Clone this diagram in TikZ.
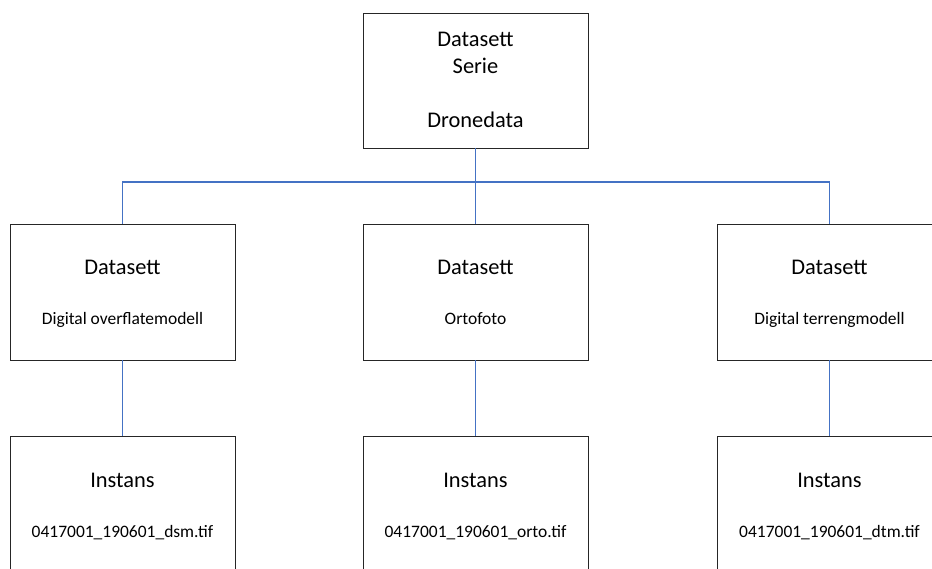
\documentclass[tikz,border=0pt]{standalone}
\usepackage{fontspec}
\setmainfont{Carlito}
\usetikzlibrary{positioning, calc}
\definecolor{cline}{HTML}{4472C4}
\definecolor{cbox}{HTML}{262626}
\tikzset{
  every picture/.style={x=0.75pt, y=-0.75pt},
  box/.style={draw=cbox, line width=0.7pt, minimum width=168.75pt, minimum height=102pt, inner sep=0pt},
  head/.style={font=\fontsize{16.8}{18}\selectfont, anchor=base, inner sep=0pt},
  sub/.style={font=\fontsize{13.1}{15}\selectfont, anchor=base, inner sep=0pt},
  link/.style={draw=cline, line width=0.9pt},
}

\begin{document}
\begin{tikzpicture}
  \useasboundingbox (0,0) rectangle (932,568);
  \clip (0,0) rectangle (932,568);
  % series box on top
  \node[box, minimum height=101.25pt] (serie) at (475.5,80.5) {};
  \node[head] (serieA) at ($(serie.north)+(0,34)$) {Datasett};
  \node[head] (serieB) at ($(serie.north)+(0,61)$) {Serie};
  \node[head] (serieC) at ($(serie.north)+(0,115)$) {Dronedata};
  % datasets
  \node[box] (dsm) at (122.5,292) {};
  \node[box] (orto) at (475.5,292) {};
  \node[box] (dtm) at (829.5,292) {};
  \node[head] (dsmA) at ($(dsm.north)+(0,51)$) {Datasett};
  \node[sub] (dsmB) at ($(dsm.north)+(0,101)$) {Digital overflatemodell};
  \node[head] (ortoA) at ($(orto.north)+(0,51)$) {Datasett};
  \node[sub] (ortoB) at ($(orto.north)+(0,101)$) {Ortofoto};
  \node[head] (dtmA) at ($(dtm.north)+(0,51)$) {Datasett};
  \node[sub] (dtmB) at ($(dtm.north)+(0,101)$) {Digital terrengmodell};
  % instances
  \node[box] (dsmI) at (122.5,504) {};
  \node[box] (ortoI) at (475.5,504) {};
  \node[box] (dtmI) at (829.5,504) {};
  \node[head] (dsmIA) at ($(dsmI.north)+(0,52)$) {Instans};
  \node[sub] (dsmIB) at ($(dsmI.north)+(0,102)$) {0417001\_190601\_dsm.tif};
  \node[head] (ortoIA) at ($(ortoI.north)+(0,52)$) {Instans};
  \node[sub] (ortoIB) at ($(ortoI.north)+(0,102)$) {0417001\_190601\_orto.tif};
  \node[head] (dtmIA) at ($(dtmI.north)+(0,52)$) {Instans};
  \node[sub] (dtmIB) at ($(dtmI.north)+(0,102)$) {0417001\_190601\_dtm.tif};
  % tree lines
  \coordinate (split) at (475.5,182);
  \draw[link] (serie.south) -- (orto.north);
  \draw[link] (dsm.north) |- (split) -| (dtm.north);
  \draw[link] (dsm.south) -- (dsmI.north);
  \draw[link] (orto.south) -- (ortoI.north);
  \draw[link] (dtm.south) -- (dtmI.north);
\end{tikzpicture}
\end{document}
